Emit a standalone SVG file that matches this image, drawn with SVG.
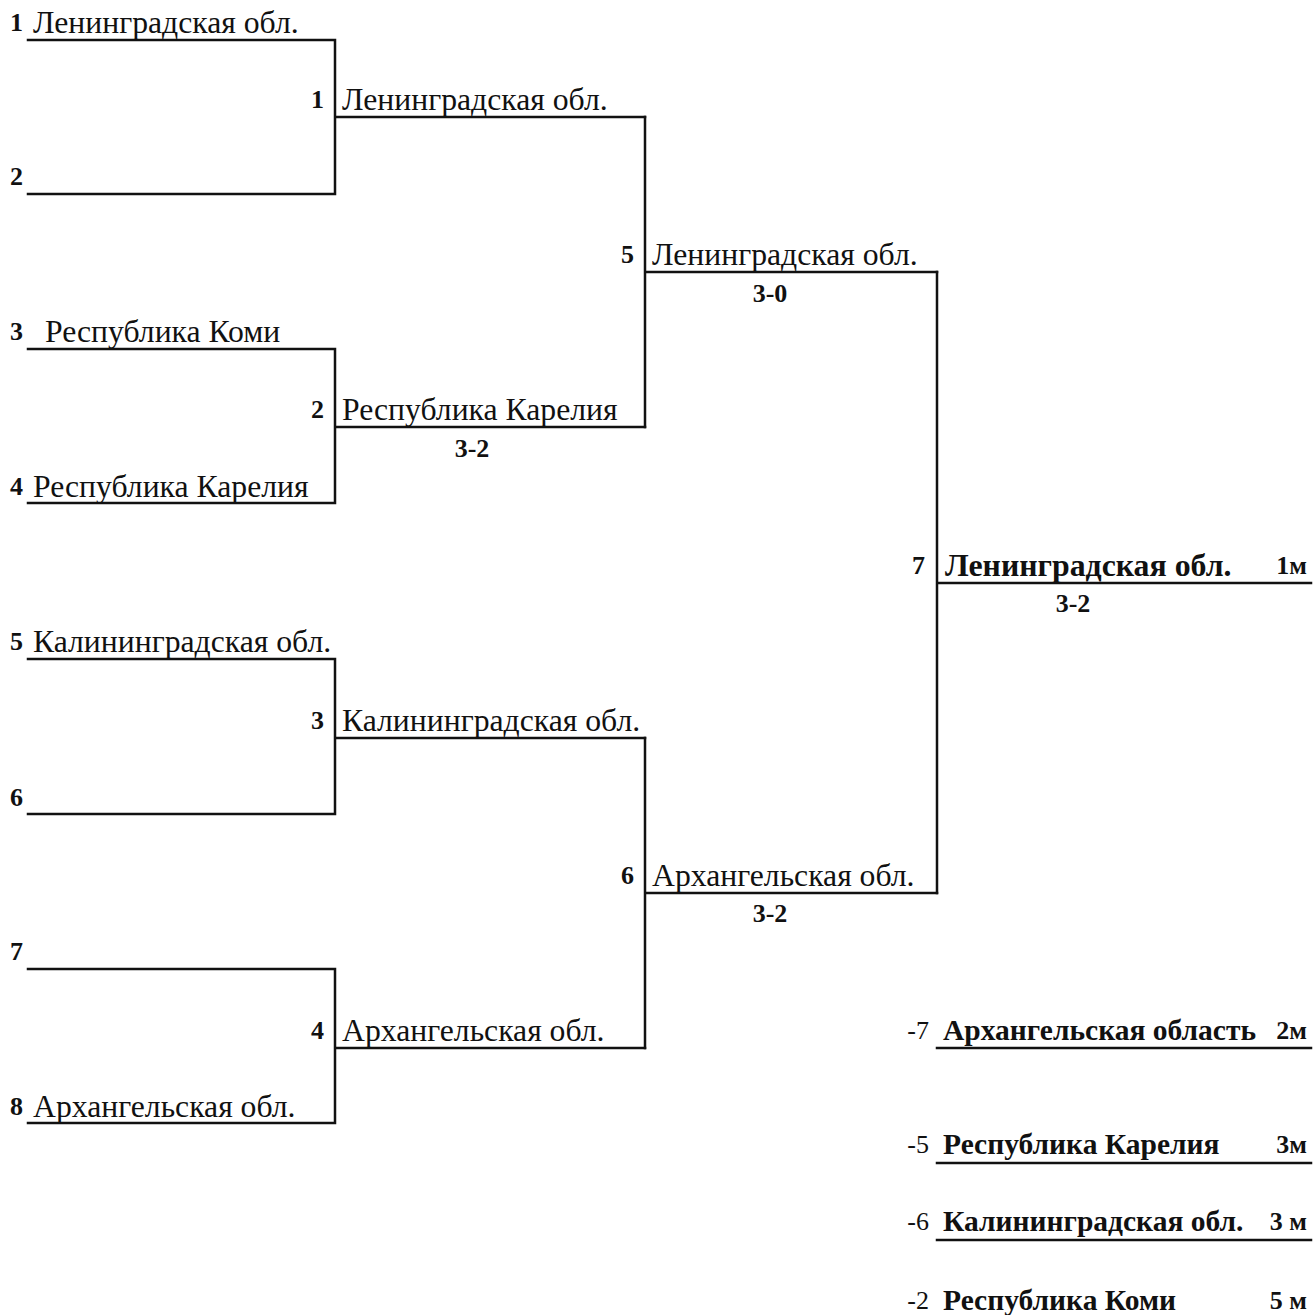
<svg xmlns="http://www.w3.org/2000/svg" width="1313" height="1315" viewBox="0 0 1313 1315">
<style>
.ln{stroke:#111;stroke-width:2.5;fill:none;stroke-linecap:square}
.t{font-family:"Liberation Serif","Times New Roman",serif;font-size:31.7px;fill:#111}
.n{font-family:"Liberation Serif","Times New Roman",serif;font-size:26px;font-weight:bold;fill:#111}
.b{font-family:"Liberation Serif","Times New Roman",serif;font-size:29.5px;font-weight:bold;fill:#111}
.bf{font-size:31.8px}
.s{font-family:"Liberation Serif","Times New Roman",serif;font-size:26px;font-weight:bold;fill:#111;text-anchor:middle}
.r{font-family:"Liberation Serif","Times New Roman",serif;font-size:26px;fill:#111}
.e{text-anchor:end}
</style>
<rect width="1313" height="1315" fill="#fff"/>
<g id="connectors">
<path class="ln" d="M28 40H335V194H28M335 117H645"/>
<path class="ln" d="M28 349H335V503H28M335 427H645"/>
<path class="ln" d="M28 659H335V814H28M335 738H645"/>
<path class="ln" d="M28 969H335V1123H28M335 1048H645"/>
<path class="ln" d="M645 117V427M645 272H937"/>
<path class="ln" d="M645 738V1048M645 893H937"/>
<path class="ln" d="M937 272V893M937 583H1311"/>
<path class="ln" d="M937 1048H1311M937 1163H1311M937 1240H1311"/>
</g>
<g id="r1-1"><text class="n" x="10" y="31">1</text><text class="t" x="33" y="33">Ленинградская обл.</text></g>
<g id="r1-2"><text class="n" x="10" y="185">2</text></g>
<g id="r1-3"><text class="n" x="10" y="340">3</text><text class="t" x="45" y="342">Республика Коми</text></g>
<g id="r1-4"><text class="n" x="10" y="495">4</text><text class="t" x="33" y="497">Республика Карелия</text></g>
<g id="r1-5"><text class="n" x="10" y="650">5</text><text class="t" x="33" y="652">Калининградская обл.</text></g>
<g id="r1-6"><text class="n" x="10" y="806">6</text></g>
<g id="r1-7"><text class="n" x="10" y="960">7</text></g>
<g id="r1-8"><text class="n" x="10" y="1115">8</text><text class="t" x="33" y="1117">Архангельская обл.</text></g>
<g id="r2-1"><text class="n e" x="324" y="108">1</text><text class="t" x="342" y="110">Ленинградская обл.</text></g>
<g id="r2-2"><text class="n e" x="324" y="418">2</text><text class="t" x="342" y="420">Республика Карелия</text><text class="s" x="472" y="457">3-2</text></g>
<g id="r2-3"><text class="n e" x="324" y="729">3</text><text class="t" x="342" y="731">Калининградская обл.</text></g>
<g id="r2-4"><text class="n e" x="324" y="1039">4</text><text class="t" x="342" y="1041">Архангельская обл.</text></g>
<g id="r3-5"><text class="n e" x="634" y="263">5</text><text class="t" x="652" y="265">Ленинградская обл.</text><text class="s" x="770" y="302">3-0</text></g>
<g id="r3-6"><text class="n e" x="634" y="884">6</text><text class="t" x="652" y="886">Архангельская обл.</text><text class="s" x="770" y="922">3-2</text></g>
<g id="final"><text class="n e" x="925" y="574">7</text><text class="b bf" x="945" y="576">Ленинградская обл.</text><text class="n e" x="1307" y="574">1м</text><text class="s" x="1073" y="612">3-2</text></g>
<g id="p2"><text class="r e" x="929" y="1039">-7</text><text class="b" x="943" y="1040">Архангельская область</text><text class="n e" x="1307" y="1039">2м</text></g>
<g id="p3a"><text class="r e" x="929" y="1153">-5</text><text class="b" x="943" y="1154">Республика Карелия</text><text class="n e" x="1307" y="1153">3м</text></g>
<g id="p3b"><text class="r e" x="929" y="1230">-6</text><text class="b" x="943" y="1231">Калининградская обл.</text><text class="n e" x="1307" y="1230">3 м</text></g>
<g id="p5"><text class="r e" x="929" y="1309">-2</text><text class="b" x="943" y="1310">Республика Коми</text><text class="n e" x="1307" y="1309">5 м</text></g>
</svg>
